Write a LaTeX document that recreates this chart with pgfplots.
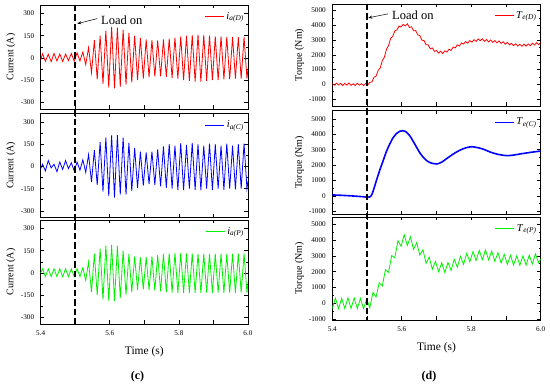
\documentclass[border=0pt]{standalone}
\usepackage{fontspec}
\setmainfont{Liberation Serif}
\usepackage{pgfplots}
\usepackage{pgfplotstable}
\pgfplotsset{compat=1.18}
\usetikzlibrary{arrows.meta}
\definecolor{mygreen}{RGB}{0,240,0}
\definecolor{myblue}{RGB}{0,0,255}
\definecolor{myred}{RGB}{255,0,0}

\pgfplotstableread{
t D C P
5.4000 -10 -15 0
5.4053 28 15 28
5.4136 -22 -30 -25
5.4220 25 40 28
5.4303 -25 -10 -25
5.4386 30 15 28
5.4470 -20 -35 -25
5.4553 27 30 28
5.4636 -24 -20 -25
5.4720 26 40 28
5.4803 -18 -15 -25
5.4886 30 25 28
5.4970 -22 -30 -25
5.5053 35 30 30
5.5136 -20 -25 -25
5.5220 40 45 35
5.5303 -45 -40 -50
5.5386 70 80 75
5.5470 -100 -105 -130
5.5553 120 110 130
5.5636 -145 -125 -150
5.5720 150 165 165
5.5803 -175 -170 -180
5.5886 185 195 185
5.5970 -200 -200 -188
5.6053 210 210 190
5.6136 -205 -210 -190
5.6220 205 212 183
5.6303 -195 -190 -170
5.6386 190 195 150
5.6470 -180 -190 -148
5.6553 170 160 128
5.6636 -165 -165 -130
5.6720 150 125 112
5.6803 -150 -145 -115
5.6886 135 100 105
5.6970 -140 -130 -110
5.7053 125 95 108
5.7136 -130 -120 -115
5.7220 120 100 112
5.7303 -125 -125 -120
5.7386 118 115 120
5.7470 -125 -135 -125
5.7553 125 135 128
5.7636 -130 -145 -130
5.7720 130 150 132
5.7803 -135 -150 -132
5.7886 138 140 135
5.7970 -140 -160 -135
5.8053 145 158 135
5.8136 -150 -160 -135
5.8220 150 145 133
5.8303 -155 -150 -135
5.8386 155 160 132
5.8470 -160 -158 -135
5.8553 158 150 130
5.8636 -160 -160 -135
5.8720 155 140 130
5.8803 -155 -150 -133
5.8886 150 155 130
5.8970 -150 -160 -135
5.9053 145 150 130
5.9136 -150 -150 -133
5.9220 145 140 130
5.9303 -145 -158 -135
5.9386 142 155 130
5.9470 -145 -150 -133
5.9553 142 140 130
5.9636 -140 -155 -135
5.9720 140 150 130
5.9803 -140 -150 -133
5.9886 142 155 132
5.9970 -140 -150 -135
6.0000 -70 -100 -60
}\currents

\pgfplotstableread{
t T
5.400 50
5.406 -60
5.412 80
5.418 -40
5.424 70
5.430 -80
5.436 60
5.442 -50
5.448 90
5.454 -70
5.460 40
5.466 -80
5.472 70
5.478 -60
5.484 50
5.490 -90
5.496 60
5.502 -40
5.508 130
5.514 160
5.520 480
5.526 550
5.532 950
5.538 1110
5.544 1610
5.550 1840
5.556 2380
5.562 2630
5.568 3120
5.574 3250
5.580 3620
5.586 3690
5.592 3950
5.598 3890
5.604 4070
5.610 3960
5.616 4110
5.622 3860
5.628 3900
5.634 3630
5.640 3650
5.646 3360
5.652 3310
5.658 2990
5.664 2970
5.670 2680
5.676 2680
5.682 2410
5.688 2470
5.694 2240
5.700 2290
5.706 2120
5.712 2250
5.718 2090
5.724 2270
5.730 2190
5.736 2380
5.742 2300
5.748 2530
5.754 2470
5.760 2680
5.766 2600
5.772 2810
5.778 2730
5.784 2900
5.790 2790
5.796 2970
5.802 2860
5.808 3030
5.814 2910
5.820 3080
5.826 2960
5.832 3090
5.838 2920
5.844 3040
5.850 2880
5.856 3010
5.862 2850
5.868 2970
5.874 2810
5.880 2940
5.886 2780
5.892 2890
5.898 2720
5.904 2850
5.910 2680
5.916 2780
5.922 2620
5.928 2750
5.934 2600
5.940 2720
5.946 2580
5.952 2730
5.958 2590
5.964 2740
5.970 2620
5.976 2790
5.982 2670
5.988 2820
5.994 2690
6.000 2840
}\torqueD

\pgfplotstableread{
t T
5.400 70
5.430 40
5.460 0
5.490 -50
5.500 -80
5.508 -60
5.515 150
5.5275 1040
5.537 1700
5.547 2330
5.556 2900
5.566 3400
5.575 3780
5.585 4060
5.594 4200
5.603 4240
5.613 4150
5.624 3880
5.638 3350
5.653 2770
5.668 2370
5.682 2160
5.701 2080
5.715 2200
5.730 2440
5.750 2750
5.768 2980
5.785 3130
5.802 3200
5.820 3130
5.836 3030
5.855 2850
5.874 2720
5.890 2650
5.903 2620
5.920 2650
5.941 2730
5.970 2830
6.000 2920
}\torqueC

\pgfplotstableread{
t T
5.400 -320
5.409 330
5.418 -340
5.427 320
5.436 -330
5.445 350
5.454 -320
5.463 340
5.472 -330
5.481 320
5.490 -340
5.499 280
5.508 -280
5.517 680
5.526 400
5.535 1300
5.544 1100
5.553 2120
5.562 1950
5.571 3020
5.580 2870
5.589 3950
5.598 3600
5.607 4330
5.616 3650
5.625 4200
5.634 3400
5.643 3830
5.652 3050
5.661 3380
5.670 2520
5.679 2920
5.688 2150
5.697 2650
5.706 2000
5.715 2560
5.724 1940
5.733 2580
5.742 2080
5.751 2780
5.760 2280
5.769 2970
5.778 2460
5.787 3150
5.796 2620
5.805 3270
5.814 2700
5.823 3340
5.832 2760
5.841 3370
5.850 2740
5.859 3300
5.868 2650
5.877 3200
5.886 2550
5.895 3100
5.904 2460
5.913 3030
5.922 2410
5.931 3000
5.940 2400
5.949 3000
5.958 2410
5.967 3040
5.976 2480
5.985 3120
5.994 2560
6.000 2800
}\torqueP

\pgfplotsset{
  base/.style={
    scale only axis, anchor=north west,
    xmin=5.4, xmax=6.0,
    xtick={5.4,5.5,5.6,5.7,5.8,5.9,6.0},
    xticklabels={},
    tick align=inside, major tick length=3.5pt, minor tick length=2pt,
    tick style={black, line width=0.6pt},
    axis line style={line width=0.8pt},
    tick label style={font=\fontsize{7.2}{8}\selectfont},
    yticklabel style={xshift=-3pt},
    xticklabel style={yshift=-3pt},
    ylabel style={font=\fontsize{12.5}{14}\selectfont},
    xlabel style={font=\fontsize{11.5}{13}\selectfont, at={(axis description cs:0.5,0)}, anchor=center, yshift=-28pt},
    legend style={draw=none, fill=none, font=\fontsize{10.5}{12}\selectfont,
      at={(0.995,0.96)}, anchor=north east, inner sep=1pt},
  },
  limg/.style={legend image code/.code={\draw[#1, line width=1pt] (0pt,0pt) -- (19pt,0pt);}},
  curax/.style={base, width=207.3pt, height=104pt, ymin=-345, ymax=358,
    ytick={-300,-150,0,150,300}, minor ytick={-225,-75,75,225},
    yticklabels={-300,-150,0,150,300},
    ylabel={Current (A)},
    every axis y label/.style={at={(axis description cs:-0.143,0.5)}, rotate=90, anchor=center}},
  torax/.style={base, width=208.4pt,
    ytick={-1000,0,1000,2000,3000,4000,5000},
    minor ytick={-500,500,1500,2500,3500,4500},
    yticklabels={-1000,0,1000,2000,3000,4000,5000},
    ylabel={Torque (Nm)},
    every axis y label/.style={at={(axis description cs:-0.157,0.5)}, rotate=90, anchor=center}},
  bottomx/.style={xticklabels={5.4,,5.6,,5.8,,6.0}, xlabel={Time (s)}},
}

\begin{document}
\begin{tikzpicture}
\useasboundingbox (0pt,0pt) rectangle (550pt,386pt);

% ----- left column: currents -----
\begin{axis}[curax, at={(40.7pt,381pt)}, limg=myred]
\addplot[myred, line width=0.8pt] table[x=t,y=D]{\currents};
\addlegendentry{\textit{i}\textsubscript{\textit{a(D)}}}
\coordinate (LT) at (axis cs:5.5,358);
\draw[-{Stealth[length=4pt,width=3pt]}, line width=0.5pt] (axis cs:5.5638,266) -- (axis cs:5.5059,232);
\node[anchor=west, inner sep=0pt, font=\fontsize{12.5}{14}\selectfont] at (axis cs:5.5745,255) {Load on};
\end{axis}

\begin{axis}[curax, at={(40.7pt,272.5pt)}, limg=myblue]
\addplot[myblue, line width=0.8pt] table[x=t,y=C]{\currents};
\addlegendentry{\textit{i}\textsubscript{\textit{a(C)}}}
\end{axis}

\begin{axis}[curax, bottomx, at={(40.7pt,166pt)}, limg=mygreen]
\addplot[mygreen, line width=0.8pt] table[x=t,y=P]{\currents};
\addlegendentry{\textit{i}\textsubscript{\textit{a(P)}}}
\coordinate (LB) at (axis cs:5.5,-345);
\end{axis}
\draw[black, line width=1.6pt, dash pattern=on 6.5pt off 3pt] (LT) -- (LB);

% ----- right column: torques -----
\begin{axis}[torax, at={(332.3pt,382pt)}, height=102pt, ymin=-1470, ymax=5450, limg=myred]
\addplot[myred, line width=0.8pt] table[x=t,y=T]{\torqueD};
\addlegendentry{\textit{T}\textsubscript{\textit{e(D)}}}
\coordinate (RT) at (axis cs:5.5,5450);
\draw[-{Stealth[length=4pt,width=3pt]}, line width=0.5pt] (axis cs:5.560,4780) -- (axis cs:5.5035,4510);
\node[anchor=west, inner sep=0pt, font=\fontsize{12.5}{14}\selectfont] at (axis cs:5.572,4715) {Load on};
\end{axis}

\begin{axis}[torax, at={(332.3pt,275.5pt)}, height=104pt, ymin=-1200, ymax=5550, limg=myblue]
\addplot[myblue, line width=1.6pt, smooth] table[x=t,y=T]{\torqueC};
\addlegendentry{\textit{T}\textsubscript{\textit{e(C)}}}
\end{axis}

\begin{axis}[torax, bottomx, at={(332.3pt,169pt)}, height=103pt, ymin=-1050, ymax=5450, limg=mygreen]
\addplot[mygreen, line width=0.8pt] table[x=t,y=T]{\torqueP};
\addlegendentry{\textit{T}\textsubscript{\textit{e(P)}}}
\coordinate (RB) at (axis cs:5.5,-1050);
\end{axis}
\draw[black, line width=1.6pt, dash pattern=on 6.5pt off 3pt] (RT) -- (RB);

\node[font=\fontsize{12}{14}\selectfont\bfseries] at (137.5pt,9pt) {(c)};
\node[font=\fontsize{12}{14}\selectfont\bfseries] at (429pt,9pt) {(d)};
\end{tikzpicture}
\end{document}
